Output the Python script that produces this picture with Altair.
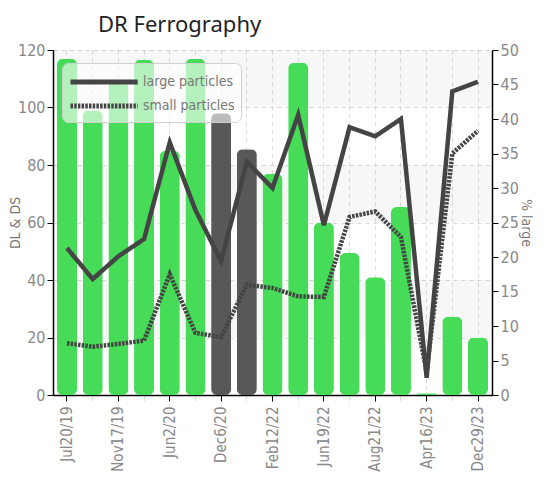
import altair as alt
import pandas as pd

labels = ["Jul20/19", "Nov17/19", "Jun2/20", "Dec6/20", "Feb12/22",
          "Jun19/22", "Aug21/22", "Apr16/23", "Dec29/23"]
idx = [0, 1, 2, 3, 4, 5, 6, 7, 8, 9, 10, 11, 12, 13, 14, 15, 16]
bar_values = [117, 99, 109, 116.5, 85, 117, 98, 85.5, 77, 115.6, 60, 49.4, 41, 65.4, 0.6, 27.2, 20]
bar_status = ["normal", "normal", "normal", "normal", "normal", "normal", "alert", "alert",
              "normal", "normal", "normal", "normal", "normal", "normal", "normal", "normal", "normal"]
large = [21.3, 16.8, 20.1, 22.6, 36.6, 26.8, 19.4, 33.8, 30, 40.6, 24.6, 38.8, 37.5, 40, 2.5, 44, 45.4]
small = [7.5, 7.0, 7.4, 7.9, 17.5, 9.0, 8.4, 16.0, 15.5, 14.3, 14.2, 25.8, 26.6, 22.9, 3.3, 35, 38.3]
band_lo = [20, 60, 100]
band_hi = [40, 80, 120]

FONT = "DejaVu Sans Condensed, Liberation Sans Narrow, sans-serif"

bars_df = pd.DataFrame({"idx": idx, "value": bar_values, "status": bar_status})
lines_df = pd.DataFrame({
    "idx": idx + idx,
    "value": large + small,
    "series": ["large particles"] * len(idx) + ["small particles"] * len(idx),
})
bands_df = pd.DataFrame({"lo": band_lo, "hi": band_hi})

label_arr = "[" + ",".join("'%s'" % l for l in labels) + "]"
xscale = alt.Scale(paddingInner=0.22, paddingOuter=0.155)
xaxis = alt.Axis(
    title=None,
    labelExpr="datum.value % 2 == 0 ? " + label_arr + "[datum.value/2] : ''",
    labelAngle=-90, labelFont=FONT, labelFontSize=15, labelColor="#888",
    labelPadding=5,
    grid=True, gridDash=[4, 4], gridColor="#d8d8d8",
    domainColor="#000", domainWidth=1.5,
    tickColor={"condition": {"test": "datum.value % 2 == 1", "value": "#dddddd"}, "value": "#000000"},
    tickSize=6,
)
xenc = alt.X("idx:O", scale=xscale, axis=xaxis)

lscale = alt.Scale(domain=[0, 120], nice=False)
laxis = alt.Axis(
    title="DL & DS", titleFont=FONT, titleFontSize=14, titleColor="#777",
    titleFontWeight="normal", titlePadding=-5,
    values=[0, 20, 40, 60, 80, 100, 120],
    labelFont=FONT, labelFontSize=16, labelColor="#888",
    grid=True, gridDash=[4, 4], gridColor="#d8d8d8",
    domainColor="#000", domainWidth=1.5, tickColor="#000", tickSize=6,
)

bands = alt.Chart(bands_df).mark_rect(color="#000", opacity=0.03).encode(
    y=alt.Y("lo:Q", scale=lscale, axis=laxis),
    y2="hi:Q",
)

bars = alt.Chart(bars_df).mark_bar(cornerRadius=6).encode(
    x=xenc,
    y=alt.Y("value:Q", scale=lscale, axis=laxis),
    color=alt.Color("status:N",
                    scale=alt.Scale(domain=["normal", "alert"], range=["#46dc58", "#585858"]),
                    legend=None),
)

lines = alt.Chart(lines_df).mark_line(strokeWidth=4.5, color="#444").encode(
    x=xenc,
    y=alt.Y("value:Q", scale=alt.Scale(domain=[0, 50], nice=False),
            axis=alt.Axis(orient="right", title="% large", titleFont=FONT, titleFontSize=14,
                          titleColor="#777", titleFontWeight="normal", titlePadding=0,
                          values=[0, 5, 10, 15, 20, 25, 30, 35, 40, 45, 50],
                          labelFont=FONT, labelFontSize=16, labelColor="#888",
                          grid=False, domainColor="#000", domainWidth=1.5,
                          tickColor="#000", tickSize=6)),
    strokeDash=alt.StrokeDash(
        "series:N",
        scale=alt.Scale(domain=["large particles", "small particles"], range=[[1, 0], [2.5, 1.2]]),
        legend=alt.Legend(
            title=None, orient="none", legendX=9, legendY=13,
            symbolType="M-1,0L5.4,0", symbolSize=441, symbolStrokeWidth=5,
            symbolStrokeColor="#444",
            labelFont=FONT, labelFontSize=14, labelColor="#777", labelOffset=49,
            rowPadding=1, padding=6,
            fillColor="rgba(255,255,255,0.6)", strokeColor="#d0d0d0", cornerRadius=6,
        ),
    ),
)

left = alt.layer(bands, bars)
chart = alt.layer(left, lines).resolve_scale(y="independent").properties(
    width=439, height=345,
    padding={"left": 45, "top": 42, "right": 48, "bottom": 83},
    autosize=alt.AutoSizeParams(type="none"),
    title=alt.TitleParams("DR Ferrography", anchor="start", frame="group", dx=45, offset=5,
                          font="Noto Sans", fontSize=22, fontWeight="normal", color="#222"),
).configure_view(stroke=None)

chart.save("out.html", embed_options={"renderer": "svg", "actions": False})
